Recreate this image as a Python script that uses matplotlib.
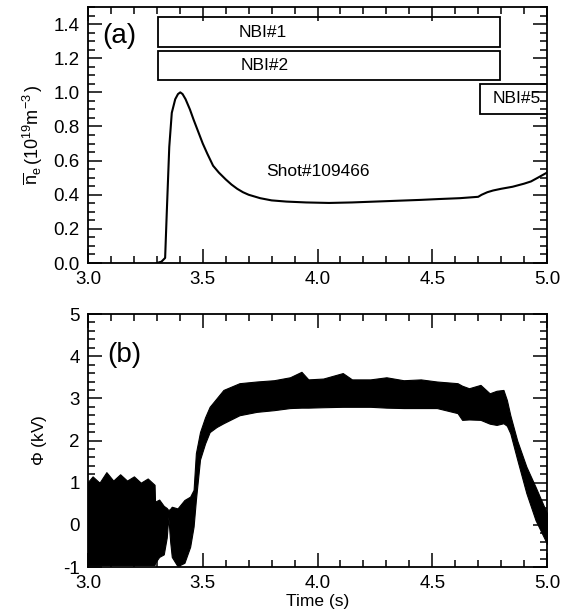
import numpy as np
import matplotlib
matplotlib.use('Agg')
import matplotlib.pyplot as plt
from matplotlib.patches import Rectangle
from matplotlib.ticker import MultipleLocator, FormatStrFormatter

plt.rcParams['font.family'] = ['Liberation Sans', 'DejaVu Sans']
plt.rcParams['axes.unicode_minus'] = False
plt.rcParams['mathtext.fontset'] = 'custom'
plt.rcParams['mathtext.rm'] = 'Liberation Sans'
plt.rcParams['mathtext.it'] = 'Liberation Sans:italic'

# (a) line-averaged density
t_ne = [3.300, 3.320, 3.336, 3.343, 3.354, 3.365, 3.380, 3.392, 3.402,
        3.412, 3.425, 3.444, 3.460, 3.480, 3.500, 3.520, 3.545, 3.570,
        3.600, 3.625, 3.650, 3.675, 3.700, 3.750, 3.800, 3.865, 3.950,
        4.050, 4.150, 4.250, 4.350, 4.450, 4.530, 4.620, 4.700, 4.715,
        4.740, 4.765, 4.800, 4.850, 4.900, 4.930, 4.960, 5.000]
ne = [0.0, 0.008, 0.03, 0.29, 0.68, 0.88, 0.96, 0.99, 1.0,
      0.99, 0.96, 0.90, 0.84, 0.77, 0.70, 0.64, 0.57, 0.53,
      0.49, 0.46, 0.435, 0.415, 0.40, 0.38, 0.367, 0.36, 0.355,
      0.352, 0.355, 0.36, 0.365, 0.37, 0.375, 0.38, 0.388, 0.40,
      0.415, 0.425, 0.435, 0.447, 0.465, 0.478, 0.50, 0.53]

# NBI timing boxes
nbi_names = ['NBI#1', 'NBI#2', 'NBI#5']
nbi_start = [3.305, 3.305, 4.71]
nbi_end = [4.795, 4.795, 5.05]
nbi_low = [1.265, 1.07, 0.876]
nbi_high = [1.44, 1.24, 1.047]
nbi_text_x = [3.76, 3.77, 4.87]

# (b) potential, envelope of the noisy trace (lower / upper edge)
t_phi = [3.000, 3.020, 3.050, 3.080, 3.110, 3.140, 3.170, 3.200, 3.230,
         3.260, 3.290, 3.292, 3.310, 3.330, 3.343, 3.350, 3.358, 3.365,
         3.390, 3.420, 3.445, 3.460, 3.470, 3.488, 3.510, 3.530, 3.560,
         3.590, 3.660, 3.735, 3.810, 3.880, 3.930, 3.960, 4.025, 4.110,
         4.150, 4.230, 4.300, 4.375, 4.450, 4.520, 4.610, 4.630, 4.660,
         4.710, 4.750, 4.780, 4.810, 4.825, 4.840, 4.870, 4.910, 4.950,
         5.000]
phi_lo = [-0.95, -0.95, -0.95, -0.95, -0.95, -0.95, -0.95, -0.95, -0.95,
          -0.95, -0.95, -0.90, -0.76, -0.70, -0.30, 0.19, -0.40, -0.76,
          -0.98, -0.90, -0.52, -0.04, 0.59, 1.55, 1.93, 2.20, 2.32,
          2.41, 2.60, 2.68, 2.72, 2.77, 2.78, 2.78, 2.79, 2.80,
          2.80, 2.80, 2.78, 2.77, 2.77, 2.77, 2.65, 2.49, 2.50,
          2.49, 2.40, 2.37, 2.41, 2.35, 2.17, 1.55, 0.75, 0.11,
          -0.45]
phi_hi = [1.02, 1.15, 1.00, 1.25, 1.05, 1.20, 1.05, 1.15, 1.00,
          1.10, 0.95, 0.55, 0.60, 0.45, 0.40, 0.35, 0.38, 0.43,
          0.39, 0.59, 0.67, 0.83, 1.70, 2.20, 2.55, 2.80, 3.00,
          3.20, 3.36, 3.40, 3.43, 3.50, 3.63, 3.45, 3.47, 3.60,
          3.45, 3.45, 3.50, 3.43, 3.45, 3.40, 3.36, 3.30, 3.24,
          3.32, 3.12, 3.18, 3.20, 2.96, 2.60, 2.00, 1.38, 0.90,
          0.27]

fig = plt.figure(figsize=(5.66, 6.16), dpi=100)
ax1 = fig.add_axes([0.1555, 0.573, 0.811, 0.4156])
ax2 = fig.add_axes([0.1555, 0.0795, 0.811, 0.4107])

for ax in (ax1, ax2):
    ax.tick_params(which='both', direction='in', top=True, right=True,
                   labelsize=13.5, width=1.1, pad=6)
    ax.tick_params(which='major', length=10)
    ax.tick_params(which='minor', length=5)
    ax.set_xlim(3.0, 5.0)
    ax.xaxis.set_major_locator(MultipleLocator(0.5))
    ax.xaxis.set_minor_locator(MultipleLocator(0.1))
    ax.xaxis.set_major_formatter(FormatStrFormatter('%.1f'))
    for s in ax.spines.values():
        s.set_linewidth(1.3)

# top panel
ax1.plot(t_ne, ne, color='black', lw=1.5)
ax1.set_ylim(0, 1.5)
ax1.yaxis.set_minor_locator(MultipleLocator(0.05))
ax1.set_yticks(np.arange(0, 1.41, 0.2))
ax1.yaxis.set_major_formatter(FormatStrFormatter('%.1f'))
ax1.set_ylabel(r'$\overline{\mathrm{n}}_\mathrm{e}\,(10^{19}\mathrm{m}^{-3}\,)$',
               fontsize=13, labelpad=6)

for name, x0, x1, y0, y1, tx in zip(nbi_names, nbi_start, nbi_end,
                                    nbi_low, nbi_high, nbi_text_x):
    ax1.add_patch(Rectangle((x0, y0), x1 - x0, y1 - y0, fc='white',
                            ec='black', lw=1.3, clip_on=True))
    ax1.text(tx, (y0 + y1) / 2, name, ha='center', va='center', fontsize=12.5)

ax1.text(3.135, 1.33, '(a)', fontsize=20, ha='center', va='center')
ax1.text(4.0, 0.535, 'Shot#109466', fontsize=12.5, ha='center', va='center')

# bottom panel
ax2.fill_between(t_phi, phi_lo, phi_hi, color='black', lw=0.8,
                 edgecolor='black')
ax2.set_ylim(-1, 5)
ax2.yaxis.set_major_locator(MultipleLocator(1))
ax2.yaxis.set_minor_locator(MultipleLocator(0.2))
ax2.set_ylabel(r'$\Phi$ (kV)', fontsize=12.5, labelpad=10)
ax2.set_xlabel('Time (s)', fontsize=12.5, labelpad=1)
ax2.text(3.16, 4.03, '(b)', fontsize=20, ha='center', va='center')

fig.savefig('out.png', dpi=100)
